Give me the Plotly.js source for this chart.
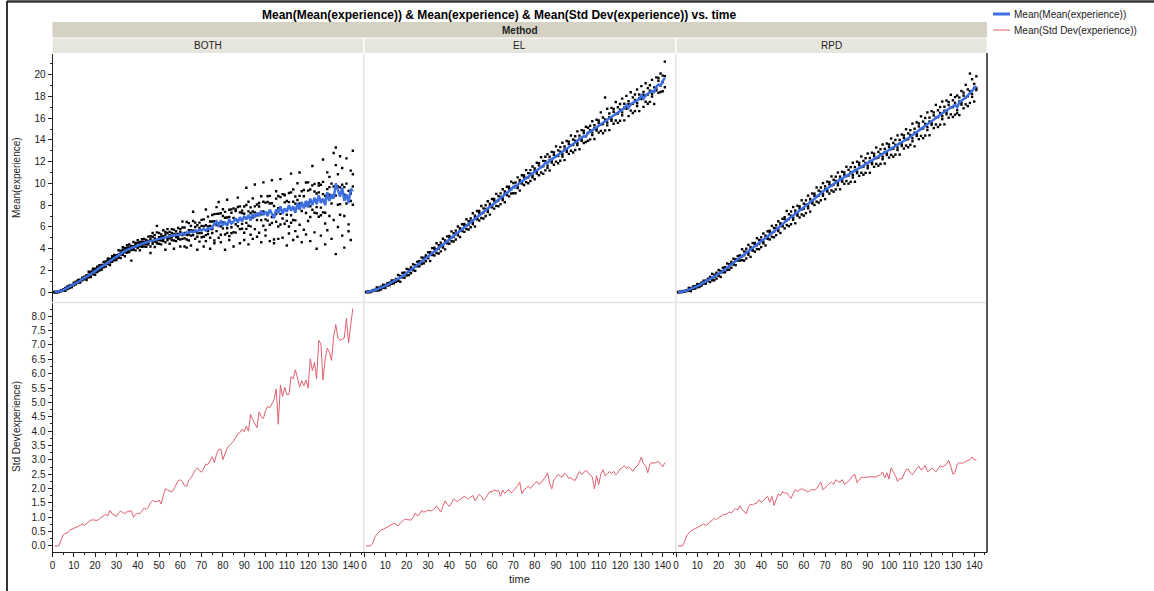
<!DOCTYPE html>
<html><head><meta charset="utf-8">
<script src="https://cdn.plot.ly/plotly-3.0.1.min.js"></script>
<style>html,body{margin:0;padding:0;background:#fff;}#chart{width:1154px;height:591px;}</style>
</head><body><div id="chart"></div>
<script>
// ---------------- DATA ----------------
const methods = ['BOTH', 'EL', 'RPD'];
const time = [1,2,3,4,5,6,7,8,9,10,11,12,13,14,15,16,17,18,19,20,21,22,23,24,25,26,27,28,29,30,
31,32,33,34,35,36,37,38,39,40,41,42,43,44,45,46,47,48,49,50,51,52,53,54,55,56,57,58,59,60,
61,62,63,64,65,66,67,68,69,70,71,72,73,74,75,76,77,78,79,80,81,82,83,84,85,86,87,88,89,90,
91,92,93,94,95,96,97,98,99,100,101,102,103,104,105,106,107,108,109,110,111,112,113,114,115,
116,117,118,119,120,121,122,123,124,125,126,127,128,129,130,131,132,133,134,135,136,137,138,139,140,141];
const xTicks = [0,10,20,30,40,50,60,70,80,90,100,110,120,130,140];

const bothMean = [0,0.02,0.05,0.12,0.2,0.3,0.38,0.5,0.6,0.72,
0.85,0.95,1.05,1.2,1.3,1.42,1.55,1.65,1.8,1.95,
2.05,2.2,2.35,2.45,2.6,2.75,2.85,3.0,3.15,3.25,
3.4,3.5,3.65,3.8,3.9,4.0,4.05,4.15,4.2,4.3,
4.35,4.45,4.5,4.6,4.65,4.7,4.75,4.85,4.9,4.9,
5.0,5.05,5.1,5.1,5.15,5.2,5.2,5.3,5.25,5.35,
5.4,5.3,5.5,5.45,5.6,5.5,5.7,5.6,5.75,5.7,
5.8,5.65,5.9,5.8,5.95,6.3,6.5,6.0,6.6,6.2,
6.4,6.1,6.7,6.3,6.5,6.8,6.4,6.9,6.5,7.0,
6.7,7.1,6.6,7.2,6.9,7.3,7.0,7.5,7.1,7.4,
7.0,7.6,7.2,6.8,7.6,7.3,7.9,7.2,7.7,7.4,
8.0,7.5,7.9,7.3,8.2,7.6,8.3,7.7,8.4,7.8,
8.6,8.0,8.7,8.1,8.9,8.2,8.6,8.0,9.2,8.4,
9.0,8.6,10.0,9.3,8.8,9.6,8.4,9.0,8.2,9.5,
9.3];

const elMean = [0,0.02,0.06,0.12,0.18,0.25,0.33,0.4,0.5,0.58,
0.68,0.78,0.88,0.98,1.1,1.22,1.35,1.48,1.6,1.75,
1.9,2.05,2.2,2.35,2.5,2.65,2.8,2.98,3.15,3.3,
3.45,3.6,3.78,3.92,4.05,4.2,4.38,4.52,4.68,4.85,
5.0,5.15,5.3,5.5,5.65,5.8,5.95,6.12,6.25,6.42,
6.6,6.75,6.92,7.08,7.2,7.38,7.55,7.7,7.85,8.02,
8.18,8.32,8.5,8.65,8.8,8.98,9.15,9.3,9.45,9.7,
9.65,9.9,10.05,10.2,10.35,10.5,10.62,10.78,10.9,11.1,
11.2,11.38,11.5,11.65,11.9,11.85,12.1,12.2,12.35,12.5,
12.62,12.78,12.9,13.05,13.2,13.35,13.5,13.62,13.78,13.95,
14.05,14.2,14.35,14.3,14.7,14.75,14.88,15.0,15.15,15.3,
15.42,15.55,15.72,15.85,16.0,16.1,16.25,16.38,16.5,16.62,
16.78,16.9,17.2,16.95,17.28,17.4,17.5,17.62,17.75,18.1,
17.8,18.1,18.25,18.35,18.5,18.4,18.9,19.1,19.0,19.4,
19.7];

const rpdMean = [0,0.01,0.04,0.09,0.15,0.22,0.3,0.38,0.46,0.55,
0.65,0.76,0.88,0.98,1.08,1.2,1.3,1.42,1.55,1.68,
1.8,1.95,2.1,2.25,2.4,2.55,2.72,2.88,3.02,3.18,
3.3,3.45,3.6,3.75,3.9,4.02,4.18,4.32,4.5,4.65,
4.8,4.95,5.1,5.3,5.45,5.6,5.75,5.92,6.1,6.25,
6.45,6.62,6.78,6.9,7.05,7.18,7.3,7.45,7.6,7.75,
7.92,8.1,8.25,8.42,8.6,8.78,8.95,9.1,9.25,9.4,
9.52,9.65,9.8,9.95,10.1,10.22,10.3,10.42,10.55,10.68,
10.8,10.9,11.0,11.12,11.25,11.38,11.5,11.62,11.72,11.85,
11.95,12.08,12.2,12.32,12.45,12.55,12.68,12.8,12.92,13.05,
13.15,13.28,13.4,13.52,13.62,13.75,13.88,14.0,14.15,14.3,
14.42,14.58,14.72,14.88,15.0,15.15,15.3,15.45,15.6,15.75,
15.9,16.05,16.18,16.3,16.45,16.6,16.72,16.85,16.98,17.1,
17.22,17.0,17.45,17.6,17.72,17.9,18.1,18.3,18.5,18.7,
18.95];

const bothStd = [0,0,0,0.2,0.38,0.44,0.45,0.55,0.58,0.6,
0.64,0.68,0.72,0.76,0.72,0.78,0.84,0.9,0.91,0.9,
0.89,0.95,1.0,1.05,1.1,1.05,1.24,1.12,1.08,1.03,
1.15,1.22,1.16,1.13,1.19,1.2,1.23,1.0,1.1,1.14,
1.12,1.22,1.32,1.27,1.35,1.5,1.58,1.55,1.54,1.6,
1.46,1.75,2.0,1.95,1.9,1.88,1.98,2.15,2.28,2.3,
2.25,2.1,2.08,2.3,2.37,2.5,2.65,2.72,2.62,2.57,
2.7,2.85,2.84,3.0,3.11,2.9,3.2,3.36,3.38,3.01,
3.25,3.41,3.5,3.57,3.65,3.78,3.9,3.95,4.07,3.98,
4.18,4.0,4.58,4.4,4.25,4.12,4.67,4.5,4.44,4.71,
4.86,4.82,4.95,5.1,5.47,4.24,5.61,5.2,5.53,5.27,
5.28,5.9,5.82,6.14,5.85,5.53,5.76,5.58,5.78,5.5,
6.52,6.11,6.4,5.82,7.16,7.05,5.78,6.5,6.89,6.75,
6.46,7.3,7.71,7.24,7.16,7.2,7.25,7.94,7.07,7.7,
8.27];

const elStd = [0,0,0,0.08,0.3,0.41,0.48,0.56,0.58,0.62,
0.65,0.7,0.73,0.79,0.75,0.7,0.8,0.86,0.93,0.92,
0.91,0.9,1.0,1.14,1.05,1.1,1.24,1.18,1.2,1.25,
1.22,1.24,1.3,1.4,1.28,1.18,1.38,1.57,1.45,1.38,
1.5,1.64,1.58,1.55,1.62,1.68,1.73,1.68,1.64,1.7,
1.76,1.58,1.7,1.8,1.72,1.59,1.68,1.8,1.9,1.88,
1.96,1.92,1.93,1.73,1.95,1.83,1.92,1.96,1.85,1.92,
2.0,2.1,2.22,1.82,1.95,2.02,2.08,2.0,2.1,2.18,
2.25,2.15,2.2,2.3,2.4,2.55,2.2,1.99,2.3,2.4,
2.5,2.42,2.4,2.54,2.48,2.35,2.38,2.3,2.29,2.45,
2.6,2.5,2.55,2.64,2.55,2.5,2.4,1.99,2.45,2.14,
2.5,2.66,2.45,2.5,2.6,2.52,2.6,2.48,2.55,2.68,
2.72,2.8,2.7,2.76,2.7,2.6,2.72,2.78,2.9,3.1,
2.85,2.8,2.55,2.85,2.9,2.88,2.92,2.95,2.85,2.76,
2.9];

const rpdStd = [0,0,0,0.15,0.35,0.45,0.52,0.57,0.6,0.64,
0.68,0.72,0.77,0.72,0.76,0.85,0.89,0.97,0.92,0.98,
1.05,1.09,1.1,1.12,1.19,1.15,1.24,1.3,1.25,1.4,
1.28,1.2,1.12,1.35,1.46,1.42,1.48,1.5,1.61,1.52,
1.6,1.65,1.73,1.52,1.73,1.41,1.65,1.81,1.75,1.89,
1.84,1.85,1.75,1.66,1.82,1.96,1.9,1.95,2.0,1.95,
1.93,1.87,1.95,1.96,1.95,2.0,2.1,2.22,1.96,2.05,
2.1,2.18,2.22,2.15,2.31,2.25,2.22,2.31,2.15,2.2,
2.25,2.35,2.45,2.49,2.2,2.3,2.4,2.38,2.4,2.41,
2.4,2.42,2.4,2.41,2.45,2.48,2.58,2.37,2.55,2.33,
2.72,2.6,2.45,2.25,2.35,2.33,2.5,2.66,2.68,2.55,
2.48,2.6,2.7,2.78,2.65,2.7,2.8,2.6,2.62,2.72,
2.65,2.58,2.68,2.8,2.75,2.8,2.85,2.98,2.78,2.5,
2.55,2.85,2.9,2.88,2.9,2.95,2.98,3.0,3.1,3.0,
3.0];

// individual run means (Mean(experience)), one row per time step
const bothPts = [
[0,0.01,0.04,0],[0.04,0,0,0.02],[0.04,0.1,0.06,0.02],[0.16,0.08,0.14,0.12],[0.18,0.23,0.19,0.26],
[0.32,0.13,0.4,0.25],[0.52,0.34,0.28,0.44],[0.39,0.54,0.63,0.48],[0.67,0.54,0.46,0.61],[0.68,0.88,0.74,0.64],
[0.96,0.73,0.9,0.84],[0.88,1.03,0.93,1.12],[1.07,0.88,1.15,1.0],[1.34,1.16,1.1,1.26],[1.19,1.34,1.43,1.28],
[1.57,1.3,1.12,1.45],[1.48,1.88,1.6,1.38],[1.88,1.4,1.75,1.63],[1.65,1.98,1.75,2.15],[2.0,1.6,2.15,1.85],
[2.35,1.98,1.85,2.18],[1.98,2.28,2.48,2.15],[2.5,2.23,2.05,2.38],[2.38,2.78,2.5,2.28],[2.83,2.35,2.7,2.58],
[2.6,2.93,2.7,3.1],[2.9,2.5,3.05,2.75],[3.3,2.93,2.8,3.13],[2.93,3.23,3.43,3.1],[3.4,3.13,2.95,3.28],
[3.3,3.86,3.47,3.16],[3.82,3.15,3.64,3.47],[3.44,3.9,3.58,4.14],[3.87,3.31,4.08,3.66],[4.32,3.8,3.62,4.08],
[3.69,4.11,4.39,3.93],[4.26,3.88,2.9,4.09],[4.05,4.61,4.22,3.9],[4.52,3.85,4.34,4.17],[4.09,4.55,4.23,4.79],
[4.42,3.86,4.63,4.21],[4.87,4.35,4.17,4.63],[4.19,4.61,4.89,4.43],[4.81,4.43,4.18,4.64],[4.55,5.11,4.72,4.41],
[5.15,4.2,4.9,3.6],[4.45,5.1,4.65,5.45],[4.95,4.15,5.25,4.65],[5.5,4.75,4.5,6.1],[4.45,5.05,5.45,4.8],
[5.3,4.75,4.4,5.05],[4.9,5.7,5.15,4.7],[5.55,4.6,5.3,3.9],[4.8,5.45,5.0,5.8],[5.25,4.45,5.55,4.95],
[5.8,5.05,4.8,5.45],[4.75,5.35,5.75,4.0],[5.6,5.05,4.7,5.35],[5.1,5.9,5.35,4.9],[5.8,4.85,5.55,4.2],
[4.9,5.95,5.25,6.5],[5.45,4.2,5.95,4.95],[6.45,5.25,4.85,4.1],[4.75,5.7,6.35,5.3],[6.1,5.2,4.3,5.7],
[5.25,6.55,5.65,7.4],[6.4,4.9,6.0,5.6],[5.1,6.15,5.45,3.9],[5.9,4.65,6.4,5.45],[6.65,5.45,5.05,6.1],
[5.1,6.05,6.7,4.2],[6.15,5.25,4.7,7.6],[5.65,6.95,6.05,5.35],[6.5,5.0,6.1,4.0],[5.45,6.5,5.8,7.1],
[6.52,4.76,7.18,4.5],[7.82,6.17,5.62,7.2],[5.01,6.33,7.21,8.3],[7.26,6.05,5.28,4.6],[5.87,7.63,6.42,7.0],
[7.39,5.3,6.84,3.9],[5.44,6.87,5.88,8.5],[6.92,5.16,7.58,4.8],[7.62,5.97,5.42,7.3],[5.51,6.83,7.71,4.2],
[7.46,6.25,5.48,7.6],[6.07,7.83,6.62,8.7],[7.89,5.8,7.34,4.5],[5.84,7.27,6.28,7.5],[7.22,5.46,7.88,4.8],
[8.02,6.37,5.82,9.6],[6.11,7.43,8.31,4.4],[7.26,6.05,5.28,7.8],[6.87,8.63,7.42,4.9],[7.89,5.8,7.34,9.9],
[6.64,8.07,7.08,5.1],[7.22,5.46,7.88,8.2],[8.82,7.17,6.62,4.6],[6.11,7.43,8.31,10.1],[8.24,6.7,5.72,5.2],
[6.58,8.82,7.28,8.3],[8.86,6.2,8.16,4.7],[6.36,8.18,6.92,10.3],[7.08,4.84,7.92,4.5],[9.28,7.18,6.48,8.6],
[6.04,7.72,8.84,4.9],[8.74,7.2,6.22,10.4],[6.78,9.02,7.48,5.0],[8.96,6.3,8.26,8.9],[6.56,8.38,7.12,4.3],
[8.28,6.04,9.12,5.4],[9.18,7.08,6.38,10.9],[6.64,8.32,9.44,4.8],[8.14,6.6,5.62,8.8],[7.78,10.02,8.48,5.1],
[8.86,6.2,8.16,11.0],[7.46,9.28,8.02,4.6],[7.98,5.74,8.82,9.4],[10.08,7.98,7.28,5.3],[6.54,8.22,9.34,10.1],
[9.44,7.9,6.92,4.7],[7.58,9.82,8.28,11.6],[9.96,7.3,9.26,5.5],[7.26,9.08,7.82,4.0],[9.18,6.94,10.02,9.8],
[9.88,7.78,7.08,5.2],[7.34,9.02,10.14,12.2],[8.84,7.3,6.32,4.4],[8.78,11.02,9.48,5.7],[9.66,7.0,8.96,10.6],
[8.16,9.98,8.72,4.9],[8.88,6.64,9.72,12.8],[11.68,9.58,8.88,13.3,3.5],[8.04,9.72,10.84,6.0],[9.64,8.1,7.12,12.5],
[9.18,11.42,9.88,5.2],[9.66,7.0,8.96,4.1],[8.16,9.98,8.72,12.3],[8.48,6.24,9.32,5.6],[11.18,9.08,8.38,4.8],
[8.04,9.72,10.84,13.0]];

const elPts = [
[0,0.04,0.01],[0,0.08,0.01],[0,0.09,0.07],[0.1,0.17,0.11],[0.14,0.22,0.2],
[0.15,0.45,0.25],[0.17,0.42,0.32],[0.25,0.52,0.43],[0.41,0.68,0.46],[0.39,0.66,0.6],
[0.62,0.83,0.65],[0.65,0.88,0.84],[0.78,1.08,0.88],[0.82,1.07,0.97],[0.95,1.22,1.13],
[1.04,1.58,1.13],[0.96,1.5,1.38],[1.36,1.78,1.42],[1.33,1.81,1.72],[1.54,2.14,1.75],
[1.57,2.08,1.87],[1.75,2.29,2.11],[2.02,2.56,2.11],[1.96,2.5,2.38],[2.38,2.8,2.44],
[2.38,2.86,2.77],[2.59,3.19,2.8],[2.65,3.16,2.95],[2.85,3.39,3.21],[3.12,3.66,3.21],
[2.87,3.68,3.5],[3.42,4.05,3.51],[3.38,4.1,3.96],[3.6,4.5,3.92],[3.56,4.32,4.0],
[3.75,4.56,4.29],[4.11,4.92,4.24],[3.94,4.75,4.56],[4.5,5.13,4.59],[4.45,5.17,5.03],
[4.69,5.59,5.0],[4.66,5.42,5.1],[4.85,5.66,5.39],[5.23,6.04,5.37],[5.07,5.88,5.7],
[5.62,6.25,5.71],[5.55,6.27,6.13],[5.81,6.71,6.12],[5.76,6.52,6.2],[5.97,6.78,6.51],
[6.27,7.26,6.44],[6.04,7.03,6.81],[6.7,7.47,6.81],[6.59,7.47,7.3],[6.82,7.92,7.2],
[6.78,7.71,7.33],[7.0,7.99,7.66],[7.37,8.36,7.54],[7.13,8.13,7.91],[7.8,8.57,7.91],
[7.68,8.57,8.4],[7.94,9.04,8.32],[7.9,8.83,8.45],[8.1,9.09,8.76],[8.47,9.46,8.64],
[8.27,9.26,9.04],[8.93,9.7,9.04],[8.81,9.69,9.52],[9.07,10.17,9.45],[9.1,10.03,9.65],
[9.1,10.09,9.76],[9.57,10.56,9.74],[9.34,10.33,10.11],[9.98,10.75,10.09],[9.86,10.74,10.57],
[10.12,11.22,10.5],[10.02,10.95,10.57],[10.23,11.22,10.89],[10.57,11.56,10.74],[10.39,11.38,11.16],
[10.92,11.9,11.06],[10.75,11.87,11.66],[11.01,12.41,11.5],[10.88,12.07,11.58],[11.2,12.46,12.04],
[11.43,12.69,11.64],[11.19,12.45,12.17],[11.92,12.9,12.06],[11.72,12.84,12.63],[12.01,13.41,12.5],
[11.85,13.04,12.55],[12.08,13.34,12.92],[12.48,13.74,12.69],[12.14,13.4,13.12],[12.92,13.9,13.06],
[12.72,13.84,13.63],[13.01,14.41,13.5],[12.85,14.04,13.55],[13.08,14.34,13.92],[13.53,14.79,13.74],
[13.14,14.4,14.12],[13.92,14.9,14.06],[13.72,14.84,14.63],[13.81,15.21,14.3],[13.93,15.12,14.63],
[14.05,15.31,14.89],[14.46,15.72,14.67],[14.09,15.35,15.07],[14.87,15.85,15.01],[14.67,15.79,15.58],
[14.83,16.53,15.42],[14.62,16.06,15.47],[14.87,17.9,15.89],[15.34,16.87,15.6],[14.9,16.43,16.09],
[15.76,16.95,15.93],[15.49,16.85,16.59],[15.79,17.49,16.38],[15.57,17.01,16.42],[15.77,17.3,16.79],
[16.27,17.8,16.53],[15.8,17.33,16.99],[16.86,18.05,17.03],[16.19,17.55,17.29],[16.69,18.39,17.28],
[16.47,17.91,17.32],[16.65,18.18,17.67],[17.11,18.64,17.37],[16.65,18.18,17.84],[17.76,18.95,17.93],
[17.04,18.4,18.14],[17.51,19.21,18.1],[17.32,18.76,18.17],[17.5,19.03,18.52],[17.99,19.52,18.25],
[17.3,18.83,18.49],[18.56,19.75,18.73],[18.34,19.7,19.44],[18.41,20.11,19.0],[18.47,19.91,19.32],
[18.85,21.2,19.87]];

const rpdPts = [
[0,0.03,0],[0,0.05,0.02],[0.01,0.1,0.04],[0.04,0.12,0.08],[0.1,0.19,0.16],
[0.13,0.4,0.18],[0.1,0.38,0.32],[0.32,0.53,0.35],[0.33,0.57,0.52],[0.45,0.75,0.55],
[0.48,0.74,0.64],[0.61,0.88,0.79],[0.79,1.06,0.84],[0.79,1.06,1.0],[1.02,1.23,1.05],
[0.93,1.41,1.32],[1.09,1.69,1.3],[1.09,1.6,1.39],[1.25,1.79,1.61],[1.5,2.04,1.59],
[1.41,1.95,1.83],[1.83,2.25,1.89],[1.83,2.31,2.22],[2.04,2.64,2.25],[2.07,2.58,2.37],
[2.25,2.79,2.61],[2.54,3.08,2.63],[2.49,3.03,2.91],[2.9,3.32,2.96],[2.91,3.39,3.3],
[2.95,3.95,3.3],[2.9,3.75,3.4],[3.1,4.0,3.7],[3.45,4.35,3.6],[3.25,4.15,3.95],
[3.82,4.52,3.92],[3.73,4.53,4.38],[3.97,4.97,4.32],[3.95,4.8,4.45],[4.15,5.05,4.75],
[4.5,5.4,4.65],[4.3,5.2,5.0],[4.9,5.6,5.0],[4.85,5.65,5.5],[5.1,6.1,5.45],
[5.05,5.9,5.55],[5.25,6.15,5.85],[5.62,6.52,5.77],[5.45,6.35,6.15],[6.05,6.75,6.15],
[5.87,6.9,6.71],[6.17,7.47,6.62],[6.07,7.17,6.72],[6.25,7.42,7.03],[6.66,7.83,6.86],
[6.34,7.51,7.25],[7.04,7.95,7.17],[6.87,7.9,7.71],[7.15,8.45,7.6],[7.04,8.14,7.69],
[7.27,8.44,8.05],[7.71,8.88,7.91],[7.41,8.58,8.32],[8.16,9.07,8.29],[8.02,9.06,8.86],
[8.33,9.63,8.78],[8.24,9.34,8.89],[8.45,9.62,9.23],[8.86,10.03,9.06],[8.56,9.73,9.47],
[9.26,10.17,9.39],[9.07,10.11,9.91],[9.35,10.65,9.8],[9.24,10.34,9.89],[9.45,10.62,10.23],
[9.83,11.0,10.03],[9.46,10.63,10.37],[10.16,11.07,10.29],[9.97,11.01,10.81],[10.23,11.53,10.68],
[9.98,11.25,10.73],[10.15,11.5,11.05],[10.55,11.9,10.78],[10.15,11.5,11.2],[10.95,12.0,11.1],
[10.7,11.9,11.68],[10.98,12.48,11.5],[10.8,12.07,11.55],[10.97,12.32,11.87],[11.4,12.75,11.63],
[10.98,12.33,12.03],[11.78,12.83,11.93],[11.53,12.73,12.5],[11.8,13.3,12.32],[11.63,12.9,12.38],
[11.8,13.15,12.7],[12.23,13.58,12.46],[11.83,13.18,12.88],[12.62,13.67,12.77],[12.38,13.58,13.35],
[12.63,14.13,13.15],[12.46,13.73,13.2],[12.65,14.0,13.55],[13.07,14.42,13.3],[12.65,14.0,13.7],
[13.45,14.5,13.6],[13.21,14.41,14.18],[13.48,14.98,14.0],[13.33,14.6,14.07],[13.55,14.9,14.45],
[13.88,15.5,14.15],[13.41,15.03,14.67],[14.36,15.62,14.54],[14.07,15.51,15.24],[14.37,16.17,15.0],
[14.16,15.69,15.06],[14.4,16.02,15.48],[14.91,16.53,15.18],[14.43,16.05,15.69],[15.39,16.65,15.57],
[15.09,16.53,16.26],[15.42,17.22,16.05],[15.19,16.72,16.09],[15.4,17.02,16.48],[15.91,17.53,16.18],
[15.43,17.05,16.69],[16.36,17.62,16.54],[16.04,17.48,17.21],[16.35,18.15,16.98],[16.11,17.64,17.01],
[16.32,17.94,17.4],[16.46,18.08,16.73],[16.28,17.9,17.54],[17.24,18.5,17.42],[16.91,18.35,18.08],
[17.27,19.07,17.9],[17.11,18.64,18.01],[17.4,20.1,18.48],[17.96,19.58,18.23],[17.53,19.15,18.79],
[18.59,19.85,18.77]];

// ---------------- LAYOUT HELPERS ----------------
const W = 1154, H = 591;
const px = v => v / W;
const py = v => 1 - v / H;
const FONT = 'Arial, "Liberation Sans", sans-serif';
const BLUE = '#3d6fe0';
const PINK = '#de6070';
const cols = [[52.5, 363.5], [364, 675.5], [676, 987]];
const xIds = ['x', 'x2', 'x3'];

function flatten(rows) {
  const xs = [], ys = [];
  rows.forEach((r, i) => r.forEach(v => { xs.push(time[i]); ys.push(v); }));
  return { xs, ys };
}

const series = [
  { mean: bothMean, std: bothStd, pts: bothPts },
  { mean: elMean, std: elStd, pts: elPts },
  { mean: rpdMean, std: rpdStd, pts: rpdPts }
];

const traces = [];
series.forEach((s, i) => {
  const f = flatten(s.pts);
  traces.push({ type: 'scatter', mode: 'markers', x: f.xs, y: f.ys, xaxis: xIds[i], yaxis: 'y',
    marker: { symbol: 'square', size: 2.4, color: '#000', line: { width: 0 } }, hoverinfo: 'skip', showlegend: false });
});
series.forEach((s, i) => {
  traces.push({ type: 'scatter', mode: 'lines', x: time, y: s.mean, xaxis: xIds[i], yaxis: 'y',
    line: { color: BLUE, width: 2.5 }, name: 'Mean(Mean(experience))', showlegend: false });
});
series.forEach((s, i) => {
  traces.push({ type: 'scatter', mode: 'lines', x: time, y: s.std, xaxis: xIds[i], yaxis: 'y2',
    line: { color: PINK, width: 1 }, name: 'Mean(Std Dev(experience))', showlegend: false });
});

const tickFont = { family: FONT, size: 10, color: '#222' };
function xAxis(i) {
  return {
    domain: [px(cols[i][0]), px(cols[i][1])], range: [0, 146], anchor: 'y2',
    showgrid: false, zeroline: false, showline: true, linecolor: '#222', linewidth: 1,
    ticks: 'outside', ticklen: 4, tickcolor: '#222', tickmode: 'array', tickvals: xTicks,
    ticktext: xTicks.map(String), tickangle: 0, tickfont: tickFont,
    minor: { dtick: 5, tick0: 0, ticks: 'outside', ticklen: 2, tickcolor: '#222', showgrid: false },
    fixedrange: true
  };
}

const layout = {
  width: W, height: H, margin: { l: 0, r: 0, t: 0, b: 0 },
  paper_bgcolor: '#fff', plot_bgcolor: '#fff', showlegend: false,
  xaxis: xAxis(0), xaxis2: xAxis(1), xaxis3: xAxis(2),
  yaxis: {
    domain: [py(302), py(54)], range: [-0.9, 21.9], anchor: 'x',
    showgrid: false, zeroline: false, showline: true, linecolor: '#222', linewidth: 1,
    ticks: 'outside', ticklen: 4, tickcolor: '#222', dtick: 2, tick0: 0, tickfont: tickFont,
    minor: { dtick: 1, ticks: 'outside', ticklen: 2, tickcolor: '#222', showgrid: false }
  },
  yaxis2: {
    domain: [py(552.3), py(302.5)], range: [-0.22, 8.48], anchor: 'x',
    showgrid: false, zeroline: false, showline: true, linecolor: '#222', linewidth: 1,
    ticks: 'outside', ticklen: 4, tickcolor: '#222', dtick: 0.5, tick0: 0, tickformat: '.1f', tickfont: tickFont,
    minor: { dtick: 0.25, ticks: 'outside', ticklen: 2, tickcolor: '#222', showgrid: false }
  },
  shapes: [],
  annotations: []
};

const S = layout.shapes, A = layout.annotations;
function rect(x0, y0, x1, y1, color) {
  S.push({ type: 'rect', xref: 'paper', yref: 'paper', x0: px(x0), x1: px(x1), y0: py(y1), y1: py(y0),
    fillcolor: color, line: { width: 0 }, layer: 'below' });
}
function line(x0, y0, x1, y1, color, w) {
  S.push({ type: 'line', xref: 'paper', yref: 'paper', x0: px(x0), x1: px(x1), y0: py(y0), y1: py(y1),
    line: { color: color, width: w } });
}
function text(t, x, y, opt) {
  A.push(Object.assign({ text: t, xref: 'paper', yref: 'paper', x: px(x), y: py(y), showarrow: false,
    xanchor: 'center', yanchor: 'middle', font: { family: FONT, size: 10, color: '#222' } }, opt || {}));
}

// header bands
rect(52.5, 22, 987, 37.5, '#d5d2c4');
cols.forEach((c, i) => rect(c[0] + (i ? 0.5 : 0), 38.5, c[1] - 0.5, 53, '#e7e6dd'));
// panel dividers
line(363.8, 54, 363.8, 552, '#e2e2e2', 1.5);
line(675.8, 54, 675.8, 552, '#e2e2e2', 1.5);
line(52.5, 302.5, 987, 302.5, '#e2e2e2', 1.5);
// right frame
line(987, 53, 987, 552.5, '#222', 1.5);
// window frame
line(7, 1.5, 1154, 1.5, '#333', 2.5);
line(7, 1, 7, 591, '#333', 2);

// texts
text('Mean(Mean(experience)) &amp; Mean(experience) &amp; Mean(Std Dev(experience)) vs. time', 499, 15,
  { font: { family: FONT, size: 12, color: '#000', weight: 'bold' } });
text('<b>Method</b>', 519.5, 30, { font: { family: FONT, size: 10, color: '#222' } });
methods.forEach((m, i) => text(m, (cols[i][0] + cols[i][1]) / 2, 45.5));
text('Mean(experience)', 16, 178, { textangle: -90 });
text('Std Dev(experience)', 16, 427, { textangle: -90 });
text('time', 519.5, 579, { font: { family: FONT, size: 11, color: '#222' } });

// legend
line(993, 14, 1010, 14, BLUE, 3);
line(993, 30, 1010, 30, PINK, 1);
text('Mean(Mean(experience))', 1012, 14.5, { xanchor: 'left' });
text('Mean(Std Dev(experience))', 1012, 30.5, { xanchor: 'left' });

Plotly.newPlot('chart', traces, layout, { staticPlot: true, displayModeBar: false });
</script>
</body></html>
